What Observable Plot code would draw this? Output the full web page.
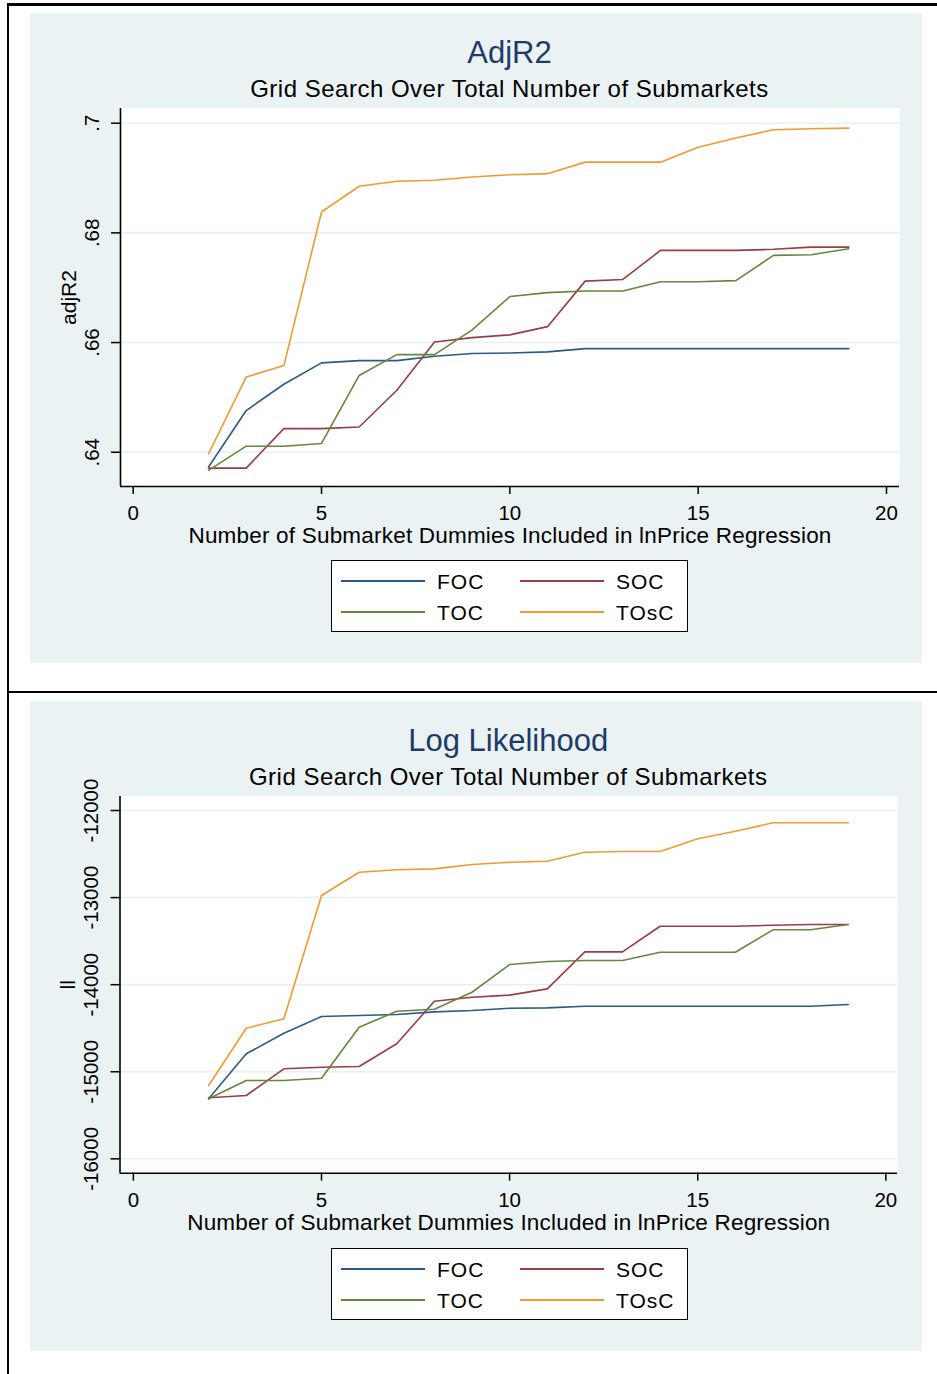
<!DOCTYPE html>
<html>
<head>
<meta charset="utf-8">
<script src="https://cdn.jsdelivr.net/npm/d3@7"></script>
<script src="https://cdn.jsdelivr.net/npm/@observablehq/plot@0.6"></script>
<style>
  html, body { margin: 0; padding: 0; background: #ffffff; }
  #page { position: relative; width: 937px; height: 1374px; overflow: hidden; font-family: "Liberation Sans", Arial, sans-serif; }
  .abs { position: absolute; }
  .txt { position: absolute; white-space: nowrap; line-height: 1; color: #000; }
  .panel { position: absolute; background: #eaf2f3; }
  .legend { position: absolute; background: #fff; border: 1.5px solid #000; box-sizing: border-box; }
  svg { overflow: visible; }
  .xtitle text { letter-spacing: 0.2px; }
</style>
</head>
<body>
<div id="page"></div>
<script>
// ---------------- DATA ----------------
const xValues = [2, 3, 4, 5, 6, 7, 8, 9, 10, 11, 12, 13, 14, 15, 16, 17, 18, 19];
const seriesNames = ["FOC", "SOC", "TOC", "TOsC"];
const seriesColors = ["#2c5a87", "#9a3c44", "#64873e", "#f29a30"];

const adjFOC  = [0.6373, 0.6476, 0.6524, 0.6563, 0.6567, 0.6567, 0.6575, 0.6580, 0.6581, 0.6583, 0.6589, 0.6589, 0.6589, 0.6589, 0.6589, 0.6589, 0.6589, 0.6589];
const adjSOC  = [0.6371, 0.6371, 0.6443, 0.6443, 0.6446, 0.6513, 0.6601, 0.6609, 0.6614, 0.6629, 0.6712, 0.6715, 0.6768, 0.6768, 0.6768, 0.6770, 0.6774, 0.6774];
const adjTOC  = [0.6367, 0.6411, 0.6411, 0.6416, 0.6540, 0.6578, 0.6578, 0.6623, 0.6684, 0.6691, 0.6694, 0.6694, 0.6711, 0.6711, 0.6713, 0.6759, 0.6760, 0.6771];
const adjTOsC = [0.6397, 0.6537, 0.6558, 0.6838, 0.6885, 0.6894, 0.6896, 0.6902, 0.6906, 0.6908, 0.6929, 0.6929, 0.6929, 0.6956, 0.6973, 0.6988, 0.6990, 0.6991];

const llFOC  = [-15311, -14794, -14557, -14366, -14354, -14343, -14312, -14297, -14270, -14266, -14247, -14247, -14247, -14247, -14247, -14247, -14247, -14228];
const llSOC  = [-15299, -15273, -14966, -14948, -14940, -14679, -14190, -14144, -14120, -14048, -13623, -13623, -13329, -13329, -13329, -13317, -13309, -13309];
const llTOC  = [-15311, -15101, -15101, -15074, -14489, -14305, -14282, -14087, -13769, -13734, -13723, -13723, -13627, -13627, -13627, -13370, -13370, -13309];
const llTOsC = [-15158, -14500, -14392, -12976, -12709, -12681, -12670, -12620, -12594, -12582, -12479, -12471, -12471, -12325, -12238, -12141, -12141, -12141];

const xTicks = [0, 5, 10, 15, 20];
const xTickLabels = ["0", "5", "10", "15", "20"];
const adjTicks = [0.64, 0.66, 0.68, 0.70];
const adjTickLabels = [".64", ".66", ".68", ".7"];
const llTicks = [-16000, -15000, -14000, -13000, -12000];
const llTickLabels = ["-16000", "-15000", "-14000", "-13000", "-12000"];

const subtitleText = "Grid Search Over Total Number of Submarkets";
const xTitleText = "Number of Submarket Dummies Included in lnPrice Regression";

// ---------------- LAYOUT ----------------
const FONT = "'Liberation Sans', Arial, sans-serif";
const page = document.getElementById("page");

function el(cls, css, text) {
  const d = document.createElement("div");
  d.className = cls;
  Object.assign(d.style, css);
  if (text != null) d.textContent = text;
  page.appendChild(d);
  return d;
}
// text placed by baseline (line-height 1, Liberation Sans ascent .905 / descent .212)
function textAt(str, {cx = null, x = null, baseline, size, color = "#000", spacing = 0}) {
  const top = baseline - 0.8465 * size;
  const d = el("txt", {top: top + "px", fontSize: size + "px", color, letterSpacing: spacing + "px"}, str);
  if (cx != null) { d.style.left = cx + "px"; d.style.transform = "translateX(-50%)"; }
  else d.style.left = x + "px";
  return d;
}

// outer frame lines
el("abs", {left: "7px", top: "3px", width: "930px", height: "2.5px", background: "#000"});
el("abs", {left: "7px", top: "3px", width: "2px", height: "1371px", background: "#000"});
el("abs", {left: "7px", top: "691px", width: "930px", height: "2px", background: "#000"});

function panel(cfg) {
  const off = cfg.offset;
  el("panel", {left: "30px", top: (13 + off) + "px", width: "892px", height: "650px"});

  const cx = (cfg.left + cfg.right) / 2;
  textAt(cfg.title, {cx, baseline: 63 + off, size: 31, color: "#1d3a68"});
  textAt(subtitleText, {cx, baseline: 97.5 + off, size: 24, spacing: 0.5});

  const svgTop = 95 + off, svgH = 465;
  const data = [];
  cfg.series.forEach((vals, k) => xValues.forEach((x, i) => data.push({x, y: vals[i], name: seriesNames[k]})));
  const yLab = new Map(cfg.yTicks.map((t, i) => [t, cfg.yTickLabels[i]]));
  const xLab = new Map(xTicks.map((t, i) => [t, xTickLabels[i]]));

  const chart = Plot.plot({
    width: 937,
    height: svgH,
    marginLeft: cfg.left,
    marginRight: 937 - cfg.right,
    marginTop: cfg.top - svgTop,
    marginBottom: svgTop + svgH - cfg.bottom,
    style: {background: "transparent", overflow: "visible", fontFamily: FONT, color: "#000"},
    x: {domain: cfg.xDomain},
    y: {domain: cfg.yDomain},
    color: {domain: seriesNames, range: seriesColors},
    marks: [
      Plot.frame({fill: "#ffffff", stroke: "none"}),
      Plot.gridY(cfg.yTicks, {stroke: "#e6eff1", strokeOpacity: 1, strokeWidth: 1.5}),
      Plot.lineY(data, {x: "x", y: "y", stroke: "name", strokeWidth: 1.6}),
      Plot.ruleX([cfg.xDomain[0]], {stroke: "#000", strokeWidth: 1.6}),
      Plot.ruleY([cfg.yDomain[0]], {stroke: "#000", strokeWidth: 1.6}),
      Plot.axisX(xTicks, {tickSize: 8, tickPadding: 11, fontSize: 20.5, strokeWidth: 1.5, tickFormat: d => xLab.get(d), label: null}),
      Plot.axisY(cfg.yTicks, {tickSize: 9, tickPadding: 13, tickRotate: -90, fontSize: 20.5, strokeWidth: 1.5, tickFormat: d => yLab.get(d), label: null}),
      Plot.text([xTitleText], {text: d => d, frameAnchor: "bottom", textAnchor: "middle", dy: 40.5, lineAnchor: "top", fontSize: 22.5, className: "xtitle"}),
      Plot.text([cfg.yTitle], {text: d => d, frameAnchor: "left", textAnchor: "middle", dx: -45, rotate: -90, lineAnchor: "bottom", fontSize: 21})
    ]
  });
  chart.style.position = "absolute";
  chart.style.left = "0px";
  chart.style.top = svgTop + "px";
  page.appendChild(chart);

  // legend
  const lx = 331, ly = 560 + off;
  el("legend", {left: lx + "px", top: ly + "px", width: "357px", height: "72px"});
  const items = [
    {k: 0, col: 0, row: 0}, {k: 1, col: 1, row: 0},
    {k: 2, col: 0, row: 1}, {k: 3, col: 1, row: 1}
  ];
  items.forEach(({k, col, row}) => {
    const yy = ly + 21 + row * 31;
    const x0 = lx + 10 + col * 179;
    el("abs", {left: x0 + "px", top: (yy - 0.9) + "px", width: "84px", height: "1.8px", background: seriesColors[k]});
    textAt(seriesNames[k], {x: x0 + 96, baseline: yy + 7.5, size: 21, spacing: 1});
  });
}

panel({
  offset: 0, title: "AdjR2", yTitle: "adjR2",
  left: 120, right: 899, top: 108, bottom: 486,
  xDomain: [-0.337, 20.345], yDomain: [0.63375, 0.70268],
  yTicks: adjTicks, yTickLabels: adjTickLabels,
  series: [adjFOC, adjSOC, adjTOC, adjTOsC]
});
panel({
  offset: 688, title: "Log Likelihood", yTitle: "ll",
  left: 119.5, right: 897, top: 796, bottom: 1172.7,
  xDomain: [-0.356, 20.31], yDomain: [-16165, -11839],
  yTicks: llTicks, yTickLabels: llTickLabels,
  series: [llFOC, llSOC, llTOC, llTOsC]
});
</script>
</body>
</html>
